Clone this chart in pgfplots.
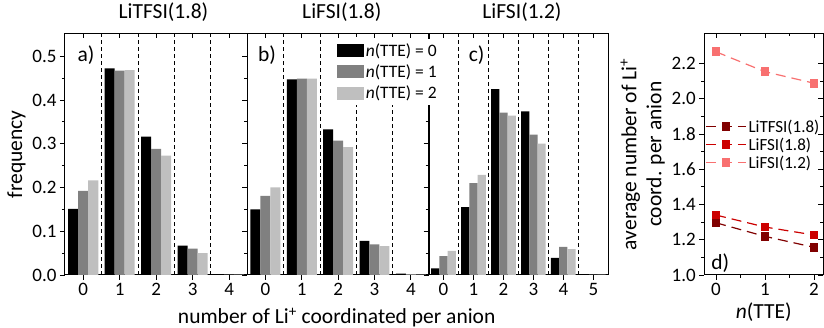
\documentclass[border=0pt]{standalone}
\usepackage{fontspec}
\setmainfont{Carlito}
\usepackage{pgfplots}
\pgfplotsset{compat=1.18}
\definecolor{dA}{RGB}{128,0,0}
\definecolor{dB}{RGB}{204,0,0}
\definecolor{dC}{RGB}{248,112,112}
\newcommand{\tickfont}{\fontsize{19}{22}\selectfont}
\newcommand{\labfont}{\fontsize{21.5}{25}\selectfont}
\newcommand{\legfont}{\fontsize{17.5}{20}\selectfont}

\pgfplotsset{
  common/.style={
    scale only axis, anchor=south west, height=241.5pt,
    axis line style={line width=1pt},
    every tick/.style={line width=0.8pt, black},
    major tick length=5pt, minor tick length=3pt,
    tick label style={font=\tickfont},
    label style={font=\labfont},
    /pgf/number format/assume math mode=true,
  },
  panel/.style={
    common, ymin=0, ymax=0.552,
    tick align=outside, xtick pos=bottom, ytick pos=left,
    ytick={0,0.1,0.2,0.3,0.4,0.5}, minor y tick num=1,
    yticklabel style={/pgf/number format/.cd, fixed, fixed zerofill, precision=1},
    title style={font=\labfont, anchor=base, at={(0.53,1)}, yshift=9pt},
    extra x tick style={grid=major, major tick length=0pt,
      major grid style={black, line width=0.8pt, dash pattern=on 4pt off 3pt}},
    extra x tick labels={},
  },
  over/.style={
    common, ymin=0, ymax=0.552,
    axis x line*=top, axis y line=none, tick align=inside,
    xticklabels={}, yticklabels={},
  },
  barleg/.style={legend image code/.code={\fill[##1] (0pt,-6.5pt) rectangle (27pt,6.5pt);}},
  b0/.style={ybar, bar width=0.275, bar shift=-0.275, fill=black, draw=none, barleg},
  b1/.style={ybar, bar width=0.275, bar shift=0, fill=black!50, draw=none, barleg},
  b2/.style={ybar, bar width=0.275, bar shift=0.275, fill=black!25, draw=none, barleg},
  dline/.style={line width=1.2pt, dash pattern=on 10pt off 6pt, mark=square*, mark size=3.8pt, mark options={solid}},
}

\begin{document}
\begin{tikzpicture}
\useasboundingbox (0,0) rectangle (824pt,328pt);

% ---------- panel a ----------
\begin{axis}[panel, at={(65pt,53pt)}, width=182.3pt,
  xmin=-0.5, xmax=4.5, xtick={0,1,2,3,4},
  extra x ticks={0.5,1.5,2.5,3.5},
  ylabel={frequency},
  title={LiTFSI(1.8)}, title style={at={(0.54,1)}}]
\addplot[b0] coordinates {(0,0.151) (1,0.472) (2,0.316) (3,0.067) (4,0.002)};
\addplot[b1] coordinates {(0,0.192) (1,0.467) (2,0.288) (3,0.060) (4,0.001)};
\addplot[b2] coordinates {(0,0.216) (1,0.468) (2,0.273) (3,0.050) (4,0.001)};
\node[anchor=west, font=\labfont] at (rel axis cs:0.05,0.91) {a)};
\end{axis}
\begin{axis}[over, at={(65pt,53pt)}, width=182.3pt, xmin=-0.5, xmax=4.5, xtick={0,1,2,3,4}]
\end{axis}

% ---------- panel c ----------
\begin{axis}[panel, at={(428.5pt,53pt)}, width=179.8pt,
  xmin=-0.5, xmax=5.5, xtick={0,1,2,3,4,5},
  extra x ticks={0.5,1.5,2.5,3.5,4.5},
  yticklabels={},
  title={LiFSI(1.2)}, title style={at={(0.52,1)}}]
\addplot[b0] coordinates {(0,0.015) (1,0.155) (2,0.425) (3,0.374) (4,0.039) (5,0.002)};
\addplot[b1] coordinates {(0,0.043) (1,0.210) (2,0.371) (3,0.321) (4,0.064) (5,0.001)};
\addplot[b2] coordinates {(0,0.055) (1,0.229) (2,0.364) (3,0.300) (4,0.059) (5,0.001)};
\node[anchor=west, font=\labfont] at (rel axis cs:0.205,0.91) {c)};
\end{axis}
\begin{axis}[over, at={(428.5pt,53pt)}, width=179.8pt, xmin=-0.5, xmax=5.5, xtick={0,1,2,3,4,5},
  axis y line*=right, ytick={0,0.1,0.2,0.3,0.4,0.5}, minor y tick num=1]
\end{axis}

% ---------- panel b ----------
\begin{axis}[panel, at={(247.3pt,53pt)}, width=181.7pt,
  xmin=-0.5, xmax=4.5, xtick={0,1,2,3,4},
  extra x ticks={0.5,1.5,2.5,3.5},
  yticklabels={},
  xlabel={number of Li\textsuperscript{+} coordinated per anion},
  xlabel style={at={(ticklabel cs:0.492)}, anchor=near ticklabel},
  title={LiFSI(1.8)}, title style={at={(0.52,1)}},
  legend style={at={(0.475,0.98)}, anchor=north west, draw=none, fill=white,
    font=\legfont, inner xsep=3pt, inner ysep=3pt, row sep=3pt},
  legend cell align=left]
\addplot[b0] coordinates {(0,0.150) (1,0.447) (2,0.333) (3,0.078) (4,0.003)};
\addplot[b1] coordinates {(0,0.181) (1,0.449) (2,0.307) (3,0.070) (4,0.002)};
\addplot[b2] coordinates {(0,0.200) (1,0.449) (2,0.292) (3,0.066) (4,0.001)};
\legend{\textit{n}(TTE) = 0, \textit{n}(TTE) = 1, \textit{n}(TTE) = 2}
\node[anchor=west, font=\labfont] at (rel axis cs:0.04,0.91) {b)};
\end{axis}
\begin{axis}[over, at={(247.3pt,53pt)}, width=181.7pt, xmin=-0.5, xmax=4.5, xtick={0,1,2,3,4}]
\end{axis}

% ---------- panel d ----------
\begin{axis}[common, at={(704.3pt,53pt)}, width=119pt,
  xmin=-0.24, xmax=2.19, ymin=1.0, ymax=2.37,
  tick align=outside, xtick pos=bottom, ytick pos=left,
  xtick={0,1,2}, minor x tick num=1,
  ytick={1.0,1.2,1.4,1.6,1.8,2.0,2.2}, minor y tick num=1,
  yticklabel style={/pgf/number format/.cd, fixed, fixed zerofill, precision=1},
  xlabel={\textit{n}(TTE)},
  ylabel={average number of Li\textsuperscript{+}\\coord. per anion},
  ylabel style={align=center},
  legend style={at={(-0.01,0.66)}, anchor=north west, draw=none, fill=none,
    font=\fontsize{17}{20}\selectfont, row sep=0pt, inner xsep=2pt},
  legend cell align=left,
  legend image code/.code={\draw[#1, mark repeat=2, mark phase=2] plot coordinates {(0pt,0pt) (20pt,0pt) (40pt,0pt)};}]
\addplot[dA, dline] coordinates {(0,1.296) (1,1.219) (2,1.157)};
\addplot[dB, dline] coordinates {(0,1.340) (1,1.272) (2,1.227)};
\addplot[dC, dline] coordinates {(0,2.266) (1,2.153) (2,2.088)};
\legend{LiTFSI(1.8), LiFSI(1.8), LiFSI(1.2)}
\node[anchor=west, font=\labfont] at (rel axis cs:0.03,0.05) {d)};
\end{axis}
\begin{axis}[common, at={(704.3pt,53pt)}, width=119pt,
  xmin=-0.24, xmax=2.19, ymin=1.0, ymax=2.37,
  axis x line*=top, axis y line*=right, tick align=inside,
  xtick={0,1,2}, minor x tick num=1,
  ytick={1.0,1.2,1.4,1.6,1.8,2.0,2.2}, minor y tick num=1,
  xticklabels={}, yticklabels={}]
\end{axis}
\end{tikzpicture}
\end{document}
